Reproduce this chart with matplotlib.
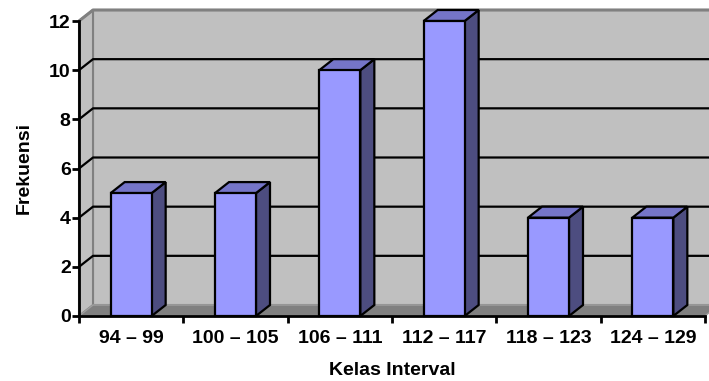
import matplotlib
matplotlib.use("Agg")
import matplotlib.pyplot as plt
from matplotlib.patches import Polygon

# Data
categories = ["94 – 99", "100 – 105", "106 – 111", "112 – 117", "118 – 123", "124 – 129"]
frequencies = [5, 5, 10, 12, 4, 4]
y_ticks = [0, 2, 4, 6, 8, 10, 12]

# Styling
FONT = "Liberation Sans"
FACE = "#9999FF"
SIDE = "#4D4D80"
TOP = "#7575C8"
WALL = "#C0C0C0"
FLOOR = "#808080"
EDGE_GRAY = "#808080"
FS = 14

plt.rcParams["font.family"] = FONT

fig = plt.figure(figsize=(7.09, 3.81), dpi=100)
ax = fig.add_axes([79 / 709, (381 - 316) / 381, 626 / 709, 295 / 381])
n = len(categories)
ymax = 12
ax.set_xlim(0, n)
ax.set_ylim(0, ymax)

# 3D depth offset expressed in data units
dx = 14 / 626 * n
dy = 11 / 295 * ymax
bar_w = 41 / 626 * n

def poly(pts, fc, ec, lw=1.0, z=1):
    p = Polygon(pts, closed=True, facecolor=fc, edgecolor=ec, linewidth=lw,
                clip_on=False, zorder=z, joinstyle="miter")
    ax.add_patch(p)

# Walls and floor
poly([(dx, dy), (n + dx, dy), (n + dx, ymax + dy), (dx, ymax + dy)], WALL, EDGE_GRAY, 1.5, 1)
poly([(0, 0), (dx, dy), (dx, ymax + dy), (0, ymax)], WALL, EDGE_GRAY, 1.5, 1)
poly([(0, 0), (n, 0), (n + dx, dy), (dx, dy)], FLOOR, "#A0A0A0", 1.0, 1)
ax.plot([0, dx, n + dx], [ymax, ymax + dy, ymax + dy], color=EDGE_GRAY, lw=2.2,
        clip_on=False, zorder=2, solid_capstyle="butt")

# Gridlines on left and back walls
for v in y_ticks[1:-1]:
    ax.plot([0, dx, n + dx], [v, v + dy, v + dy], color="black", lw=1.6,
            clip_on=False, zorder=2, solid_capstyle="butt")

# Bars
for i, v in enumerate(frequencies):
    x0 = i + 0.5 - bar_w / 2
    x1 = i + 0.5 + bar_w / 2
    poly([(x1, 0), (x1 + dx, dy), (x1 + dx, v + dy), (x1, v)], SIDE, "black", 1.6, 3)
    poly([(x0, v), (x1, v), (x1 + dx, v + dy), (x0 + dx, v + dy)], TOP, "black", 1.6, 3)
    poly([(x0, 0), (x1, 0), (x1, v), (x0, v)], FACE, "black", 1.6, 4)

# Axes lines
ax.plot([0, 0], [0, ymax], color="black", lw=2, clip_on=False, zorder=5)
ax.plot([0, n], [0, 0], color="black", lw=2, clip_on=False, zorder=5)

for s in ax.spines.values():
    s.set_visible(False)
ax.patch.set_visible(False)
ax.set_yticks(y_ticks)
ax.set_yticklabels([str(t) for t in y_ticks], fontsize=FS, fontweight="bold")
ax.set_xticks(range(n + 1))
ax.set_xticklabels([""] * (n + 1))
ax.set_xticks([i + 0.5 for i in range(n)], minor=True)
ax.set_xticklabels(categories, minor=True, fontsize=FS, fontweight="bold")
ax.tick_params(axis="y", length=5, width=2, pad=1, color="black")
ax.tick_params(axis="x", which="major", length=5, width=2, color="black")
ax.tick_params(axis="x", which="minor", length=0, pad=10)

ax.set_ylabel("Frekuensi", fontsize=FS, fontweight="bold", labelpad=12)
ax.set_xlabel("Kelas Interval", fontsize=FS, fontweight="bold", labelpad=11)

fig.savefig("out.png", dpi=100)
